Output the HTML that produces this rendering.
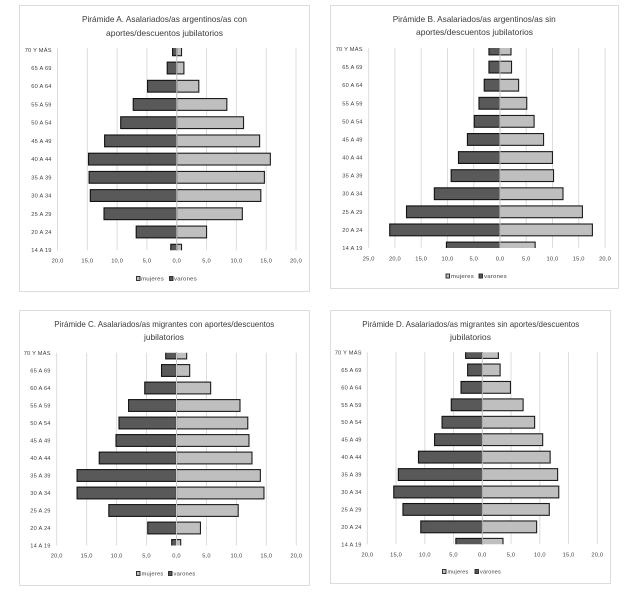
<!DOCTYPE html>
<html lang="es">
<head>
<meta charset="utf-8">
<title>Pirámides de asalariados/as</title>
<style>
html,body{margin:0;padding:0;background:#fff;width:639px;height:596px;overflow:hidden}
svg{display:block;filter:blur(0.3px)}
text{font-family:"Liberation Sans",sans-serif;fill:#404040}
.ttl{font-size:8.4px;fill:#3a3a3a}
.lbl{font-size:5.7px;letter-spacing:.2px}
.frame{fill:#fff;stroke:#dcdcdc;stroke-width:1}
.sw-m{fill:#bfbfbf;stroke:#222;stroke-width:.9}
.sw-v{fill:#595959;stroke:#222;stroke-width:.9}
</style>
</head>
<body>
<svg id="chart-root" width="639" height="596" viewBox="0 0 639 596" xmlns="http://www.w3.org/2000/svg">
  <g id="chart-a">
    <rect class="frame" x="19.5" y="5.5" width="290" height="286"/>
    <text class="ttl" x="82" y="22" textLength="165" lengthAdjust="spacingAndGlyphs">Pirámide A. Asalariados/as argentinos/as con</text>
    <text class="ttl" x="106" y="36" textLength="117" lengthAdjust="spacingAndGlyphs">aportes/descuentos jubilatorios</text>
    <g id="plot-a"></g>
    <rect class="sw-m" x="136.5" y="276.5" width="3.5" height="4"/>
    <text class="lbl" x="141" y="280.7" textLength="23" lengthAdjust="spacingAndGlyphs">mujeres</text>
    <rect class="sw-v" x="169.5" y="276.5" width="3.5" height="4"/>
    <text class="lbl" x="174" y="280.7" textLength="23" lengthAdjust="spacingAndGlyphs">varones</text>
  </g>
  <g id="chart-b">
    <rect class="frame" x="330.5" y="5.5" width="288" height="283"/>
    <text class="ttl" x="392.7" y="22" textLength="163" lengthAdjust="spacingAndGlyphs">Pirámide B. Asalariados/as argentinos/as sin</text>
    <text class="ttl" x="416" y="35" textLength="117" lengthAdjust="spacingAndGlyphs">aportes/descuentos jubilatorios</text>
    <g id="plot-b"></g>
    <rect class="sw-m" x="446" y="274" width="3.5" height="4"/>
    <text class="lbl" x="451" y="278" textLength="23" lengthAdjust="spacingAndGlyphs">mujeres</text>
    <rect class="sw-v" x="479" y="274" width="3.5" height="4"/>
    <text class="lbl" x="484" y="278" textLength="23" lengthAdjust="spacingAndGlyphs">varones</text>
  </g>
  <g id="chart-c">
    <rect class="frame" x="19.5" y="310.5" width="290" height="275"/>
    <text class="ttl" x="54.3" y="327" textLength="220" lengthAdjust="spacingAndGlyphs">Pirámide C. Asalariados/as migrantes con aportes/descuentos</text>
    <text class="ttl" x="144" y="340" textLength="40" lengthAdjust="spacingAndGlyphs">jubilatorios</text>
    <g id="plot-c"></g>
    <rect class="sw-m" x="136.5" y="571.5" width="3.5" height="4"/>
    <text class="lbl" x="141.5" y="575.5" textLength="22" lengthAdjust="spacingAndGlyphs">mujeres</text>
    <rect class="sw-v" x="168.5" y="571.5" width="3.5" height="4"/>
    <text class="lbl" x="173.5" y="575.5" textLength="22" lengthAdjust="spacingAndGlyphs">varones</text>
  </g>
  <g id="chart-d">
    <rect class="frame" x="330.5" y="310.5" width="280" height="273"/>
    <text class="ttl" x="362.3" y="327" textLength="217" lengthAdjust="spacingAndGlyphs">Pirámide D. Asalariados/as migrantes sin aportes/descuentos</text>
    <text class="ttl" x="450" y="340" textLength="41" lengthAdjust="spacingAndGlyphs">jubilatorios</text>
    <g id="plot-d"></g>
    <rect class="sw-m" x="442.5" y="569.5" width="3.5" height="4"/>
    <text class="lbl" x="447.5" y="573.5" textLength="21" lengthAdjust="spacingAndGlyphs">mujeres</text>
    <rect class="sw-v" x="475" y="569.5" width="3.5" height="4"/>
    <text class="lbl" x="480" y="573.5" textLength="21" lengthAdjust="spacingAndGlyphs">varones</text>
  </g>
</svg>
<script>
const categories = ['70 Y MÁS','65 A 69','60 A 64','55 A 59','50 A 54','45 A 49','40 A 44','35 A 39','30 A 34','25 A 29','20 A 24','14 A 19'];

const ticksA = [-20,-15,-10,-5,0,5,10,15,20];
const varonesA = [0.7,1.6,4.9,7.3,9.4,12.1,14.8,14.7,14.5,12.2,6.8,1.0];
const mujeresA = [0.8,1.2,3.7,8.4,11.2,13.9,15.7,14.7,14.1,11.0,5.0,0.8];

const ticksB = [-25,-20,-15,-10,-5,0,5,10,15,20];
const varonesB = [2.1,2.1,3.0,4.0,4.9,6.2,7.9,9.3,12.5,17.8,21.0,10.2];
const mujeresB = [2.1,2.2,3.55,5.1,6.5,8.3,10.0,10.2,12.0,15.7,17.6,6.7];

const ticksC = [-20,-15,-10,-5,0,5,10,15,20];
const varonesC = [1.8,2.5,5.3,8.0,9.6,10.1,12.9,16.6,16.6,11.3,4.8,0.8];
const mujeresC = [1.7,2.2,5.7,10.6,11.9,12.1,12.6,14.0,14.6,10.3,4.0,0.7];

const ticksD = [-20,-15,-10,-5,0,5,10,15,20];
const varonesD = [2.9,2.55,3.7,5.4,7.0,8.3,11.1,14.6,15.4,13.8,10.7,4.6];
const mujeresD = [2.8,3.1,4.9,7.1,9.1,10.5,11.8,13.1,13.3,11.65,9.45,3.6];

const NS = 'http://www.w3.org/2000/svg';

function make(parent, tag, attrs, txt) {
  const node = document.createElementNS(NS, tag);
  for (const k in attrs) node.setAttribute(k, attrs[k]);
  if (txt !== undefined) node.textContent = txt;
  parent.appendChild(node);
  return node;
}

function formatTick(v) {
  return Math.abs(v).toFixed(1).replace('.', ',');
}

function drawPyramid(id, varones, mujeres, ticks, box) {
  const root = document.getElementById('plot-' + id);
  const tMin = ticks[0];
  const tMax = ticks[ticks.length - 1];
  const xScale = v => box.x0 + (v - tMin) / (tMax - tMin) * (box.x1 - box.x0);
  const yScale = i => box.y0 + i / (categories.length - 1) * (box.y1 - box.y0);
  const barH = 11.8;

  const defs = make(root, 'defs', {});
  const clip = make(defs, 'clipPath', {id: 'clip-' + id});
  make(clip, 'rect', {x: box.x0 - 2, y: box.top, width: box.x1 - box.x0 + 4, height: box.bottom - box.top});

  ticks.forEach(t => {
    const grid = make(root, 'line', {x1: xScale(t), x2: xScale(t), y1: box.top, y2: box.bottom, stroke: '#dcdcdc', 'stroke-width': 1});
    
    
    const label = make(root, 'text', {class: 'lbl', x: xScale(t), y: box.tickY, 'text-anchor': 'middle'}, formatTick(t));
    
    
  });

  const bars = make(root, 'g', {'clip-path': 'url(#clip-' + id + ')'});
  
  

  categories.forEach((c, i) => {
    const cy = yScale(i);
    const vx = xScale(-varones[i]);
    const mx = xScale(mujeres[i]);
    const zero = xScale(0);
    const barV = make(bars, 'rect', {x: vx, y: cy - barH / 2, width: zero - vx, height: barH, fill: '#595959', stroke: '#111111', 'stroke-width': 1.1});
    
    
    const barM = make(bars, 'rect', {x: zero, y: cy - barH / 2, width: mx - zero, height: barH, fill: '#bfbfbf', stroke: '#1c1c1c', 'stroke-width': 1.1});
    
    
    const cat = make(root, 'text', {class: 'lbl', x: box.catX, y: cy + 2, 'text-anchor': 'end'}, c);
    
    
  });

  const axis = make(root, 'line', {x1: xScale(0), x2: xScale(0), y1: box.top, y2: box.bottom, stroke: '#c8c8c8', 'stroke-width': 1});
  
  
}

drawPyramid('a', varonesA, mujeresA, ticksA, {x0: 57.5, x1: 296, y0: 49.8, y1: 250.2, top: 48, bottom: 250.2, tickY: 262.5, catX: 51.7});
drawPyramid('b', varonesB, mujeresB, ticksB, {x0: 368.7, x1: 605, y0: 49, y1: 248, top: 48, bottom: 248, tickY: 260.5, catX: 362.7});
drawPyramid('c', varonesC, mujeresC, ticksC, {x0: 56.7, x1: 296.3, y0: 353, y1: 545.5, top: 352.7, bottom: 545.5, tickY: 557.5, catX: 50.7});
drawPyramid('d', varonesD, mujeresD, ticksD, {x0: 367.3, x1: 597.3, y0: 352.5, y1: 544.3, top: 352.3, bottom: 544.3, tickY: 556.5, catX: 361.7});
</script>
</body>
</html>
